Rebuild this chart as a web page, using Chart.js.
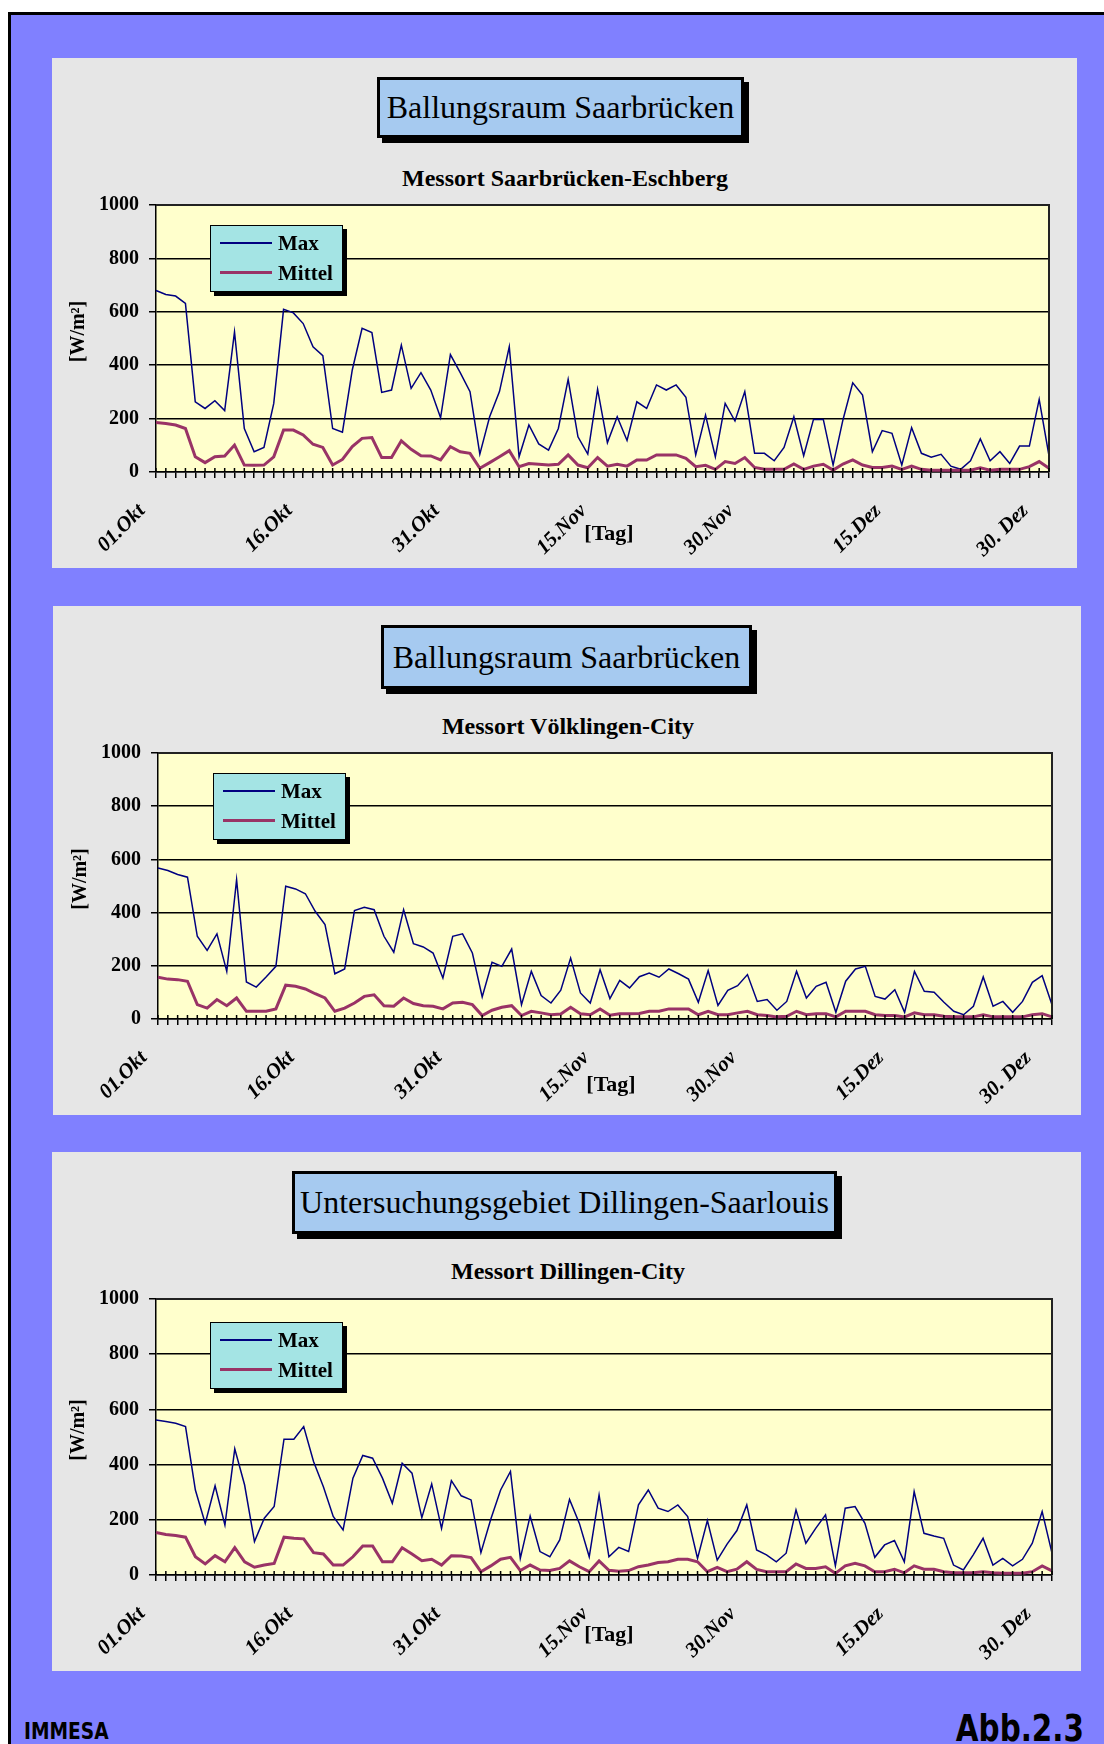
<!DOCTYPE html>
<html>
<head>
<meta charset="utf-8">
<script src="https://cdn.jsdelivr.net/npm/chart.js@4.4.1/dist/chart.umd.min.js"></script>
<style>
    body { margin: 0; width: 1104px; height: 1744px; background: #fff; position: relative; overflow: hidden;
           font-family: "Liberation Serif", "Times New Roman", serif; }
    #frame { position: absolute; left: 8px; top: 12px; right: 0; bottom: 0; background: #8080FF;
             border-left: 3px solid #000; border-top: 3px solid #000; }
    .panel { position: absolute; background: #E6E6E6; }
    .titlebox { position: absolute; background: #A6CAF0; border: 3px solid #000; box-shadow: 5px 5px 0 #000;
                box-sizing: border-box; font-size: 32px; display: flex; align-items: center;
                justify-content: center; white-space: nowrap; z-index: 2; }
    .sub { position: absolute; font-weight: bold; font-size: 24px; transform: translate(-50%, -50%);
           white-space: nowrap; z-index: 2; }
    canvas { position: absolute; z-index: 1; }
    .legend { position: absolute; width: 133px; height: 67px; box-sizing: border-box; background: #A4E4E4;
              border: 1.5px solid #000; box-shadow: 4px 4px 0 #000; z-index: 3; }
    .legend .ln { position: absolute; left: 9px; width: 52px; }
    .legend .tx { position: absolute; left: 67px; font-weight: bold; font-size: 21px; transform: translateY(-50%); }
    .foot { position: absolute; font-family: "Liberation Sans Narrow", "DejaVu Sans Condensed", "Liberation Sans", sans-serif;
            font-weight: bold; z-index: 2; white-space: nowrap; }
</style>
</head>
<body>
<div id="frame"></div>

<div id="p1"></div>
<div id="p2"></div>
<div id="p3"></div>

<div class="foot" style="left:24px; top:1718px; font-size:23px; transform:scaleX(0.9); transform-origin:left top;">IMMESA</div>
<div class="foot" style="right:20px; top:1706px; font-size:38px; transform:scaleX(0.86); transform-origin:right top;">Abb.2.3</div>

<script>
// categories: one per day, 01.Okt .. 31.Dez
var months = [['Okt', 31], ['Nov', 30], ['Dez', 31]];
var days = [];
months.forEach(function (m) {
    for (var d = 1; d <= m[1]; d++) {
        days.push((d < 10 ? '0' : '') + d + '.' + m[0]);
    }
});
var tickLabels = ['01.Okt', '16.Okt', '31.Okt', '15.Nov', '30.Nov', '15.Dez', '30. Dez'];
var tickEvery = 15;

var maxEschberg = [680, 665, 659, 631, 263, 238, 267, 230, 525, 163,
    76, 92, 257, 609, 596, 556, 469, 436, 163, 149,
    382, 538, 522, 298, 307, 475, 313, 372, 307, 203,
    440, 372, 301, 67, 207, 301, 469, 57, 176, 105,
    82, 163, 347, 132, 67, 310, 110, 207, 118, 263,
    238, 326, 307, 326, 280, 64, 213, 57, 257, 191,
    301, 70, 70, 42, 92, 207, 61, 197, 197, 26,
    195, 334, 288, 76, 155, 145, 26, 166, 70, 55,
    66, 22, 10, 42, 124, 42, 76, 32, 97, 97,
    272, 60];
var mittelEschberg = [185, 182, 176, 163, 57, 35, 57, 60, 101, 26,
    25, 26, 57, 157, 157, 139, 104, 92, 26, 47,
    95, 126, 129, 54, 54, 117, 85, 61, 60, 45,
    95, 76, 70, 14, 35, 57, 80, 20, 32, 29,
    26, 29, 64, 26, 16, 54, 22, 29, 22, 45,
    45, 64, 64, 64, 51, 20, 25, 10, 39, 32,
    54, 17, 10, 10, 10, 30, 10, 22, 29, 7,
    30, 45, 26, 17, 17, 22, 10, 22, 10, 7,
    7, 7, 7, 7, 16, 7, 10, 10, 10, 20,
    39, 14];

var maxVoelklingen = [568, 558, 543, 533, 311, 258, 320, 179, 524, 139,
    120, 158, 198, 499, 489, 471, 405, 355, 170, 188,
    408, 420, 411, 311, 251, 411, 283, 271, 248, 154,
    311, 320, 248, 83, 213, 198, 263, 54, 179, 88,
    60, 108, 229, 98, 60, 185, 77, 145, 117, 159,
    173, 157, 188, 170, 150, 63, 182, 51, 108, 125,
    167, 66, 73, 33, 66, 179, 79, 123, 138, 25,
    142, 188, 198, 85, 75, 110, 25, 179, 104, 101,
    63, 29, 16, 48, 158, 48, 66, 25, 66, 138,
    163, 54];
var mittelVoelklingen = [157, 150, 148, 142, 54, 41, 73, 50, 79, 29,
    29, 29, 38, 127, 123, 113, 95, 79, 29, 41,
    60, 85, 91, 50, 48, 79, 58, 50, 48, 38,
    60, 63, 54, 13, 33, 44, 50, 13, 29, 23,
    16, 19, 44, 20, 16, 38, 14, 20, 20, 21,
    29, 29, 38, 38, 38, 16, 29, 16, 16, 23,
    29, 16, 13, 8, 10, 29, 16, 20, 20, 8,
    29, 29, 29, 16, 13, 13, 8, 23, 16, 16,
    10, 8, 8, 8, 16, 8, 8, 8, 8, 16,
    20, 8];

var maxDillingen = [562, 556, 550, 538, 308, 187, 323, 181, 457, 326,
    121, 206, 248, 492, 492, 538, 411, 320, 212, 163,
    351, 433, 423, 351, 260, 405, 369, 208, 330, 169,
    342, 287, 272, 81, 202, 308, 375, 60, 214, 85,
    66, 127, 274, 187, 66, 290, 66, 100, 85, 254,
    308, 242, 230, 254, 212, 60, 197, 54, 112, 161,
    254, 91, 73, 48, 79, 236, 115, 169, 218, 33,
    242, 248, 187, 64, 109, 125, 48, 302, 151, 141,
    133, 36, 18, 73, 133, 36, 60, 33, 57, 115,
    230, 79];
var mittelDillingen = [154, 147, 143, 137, 66, 40, 70, 48, 99, 48,
    28, 36, 42, 137, 133, 131, 81, 76, 36, 36,
    66, 105, 105, 48, 48, 99, 76, 52, 57, 36,
    70, 69, 63, 12, 33, 57, 64, 16, 36, 18,
    16, 24, 51, 30, 12, 51, 17, 14, 16, 30,
    36, 45, 48, 57, 57, 48, 12, 28, 12, 21,
    48, 20, 12, 12, 12, 40, 24, 24, 30, 6,
    33, 42, 33, 12, 12, 21, 8, 33, 21, 21,
    12, 8, 8, 8, 12, 8, 6, 6, 6, 12,
    33, 15];

var serif = '"Liberation Serif", "Times New Roman", serif';

// yellow plot area, top/right frame, ticks crossing the axis, axis titles
var plotFrame = {
    id: 'plotFrame',
    beforeDraw: function (chart) {
        var a = chart.chartArea, ctx = chart.ctx;
        ctx.save();
        ctx.fillStyle = '#FFFFCC';
        ctx.fillRect(a.left, a.top, a.right - a.left, a.bottom - a.top);
        ctx.restore();
    },
    afterDraw: function (chart) {
        var a = chart.chartArea, ctx = chart.ctx, x = chart.scales.x;
        var opts = chart.options.plugins.plotFrame;
        ctx.save();
        ctx.strokeStyle = '#222';
        ctx.lineWidth = 2;
        ctx.beginPath();
        ctx.moveTo(a.left, a.top);
        ctx.lineTo(a.right, a.top);
        ctx.lineTo(a.right, a.bottom);
        ctx.stroke();

        ctx.strokeStyle = '#000';
        ctx.lineWidth = 1.5;
        ctx.beginPath();
        for (var i = 0; i < days.length; i++) {
            var px = x.getPixelForValue(i);
            ctx.moveTo(px, a.bottom - 4);
            ctx.lineTo(px, a.bottom);
        }
        ctx.stroke();

        ctx.fillStyle = '#000';
        ctx.textAlign = 'center';
        ctx.textBaseline = 'middle';
        ctx.font = 'bold 22px ' + serif;
        ctx.fillText('[Tag]', a.left + 453, a.bottom + opts.tagDy);

        ctx.translate(a.left - 77, (a.top + a.bottom) / 2 - 7);
        ctx.rotate(-Math.PI / 2);
        ctx.font = 'bold 20px ' + serif;
        ctx.fillText('[W/m\u00B2]', 0, 0);
        ctx.restore();
    }
};

var layouts = [
    { panel: { l: 52, t: 58, r: 1077, b: 568 }, plot: { l: 156, t: 205, r: 1049, b: 472 },
      title: { l: 377, t: 77, w: 367, h: 61 }, subX: 565, subY: 178, legend: { l: 210, t: 225 }, tagDy: 62 },
    { panel: { l: 53, t: 606, r: 1081, b: 1115 }, plot: { l: 158, t: 753, r: 1052, b: 1019 },
      title: { l: 381, t: 625, w: 371, h: 64 }, subX: 568, subY: 726, legend: { l: 213, t: 773 }, tagDy: 66 },
    { panel: { l: 52, t: 1152, r: 1081, b: 1671 }, plot: { l: 156, t: 1299, r: 1052, b: 1575 },
      title: { l: 292, t: 1171, w: 545, h: 63 }, subX: 568, subY: 1271, legend: { l: 210, t: 1322 }, tagDy: 60 }
];

function buildPanel(holderId, box, titleText, subText, maxValues, mittelValues) {
    var holder = document.getElementById(holderId);
    var html = '';
    html += '<div class="panel" style="left:' + box.panel.l + 'px;top:' + box.panel.t + 'px;width:' +
        (box.panel.r - box.panel.l) + 'px;height:' + (box.panel.b - box.panel.t) + 'px;"></div>';
    html += '<div class="titlebox" style="left:' + box.title.l + 'px;top:' + box.title.t + 'px;width:' +
        box.title.w + 'px;height:' + box.title.h + 'px;">' + titleText + '</div>';
    html += '<div class="sub" style="left:' + box.subX + 'px;top:' + box.subY + 'px;">' + subText + '</div>';
    html += '<canvas></canvas>';
    html += '<div class="legend" style="left:' + box.legend.l + 'px;top:' + box.legend.t + 'px;">' +
        '<div class="ln" style="top:16px;height:1.5px;background:#000080;"></div>' +
        '<div class="tx" style="top:17px;">Max</div>' +
        '<div class="ln" style="top:45px;height:3px;background:#993366;"></div>' +
        '<div class="tx" style="top:47px;">Mittel</div></div>';
    holder.innerHTML = html;

    var canvas = holder.querySelector('canvas');
    var top = box.plot.t - 10;
    canvas.width = box.panel.r - box.panel.l;
    canvas.height = box.panel.b - top;
    canvas.style.left = box.panel.l + 'px';
    canvas.style.top = top + 'px';

    new Chart(canvas, {
        type: 'line',
        data: {
            labels: days,
            datasets: [{
                label: 'Max',
                data: maxValues,
                borderColor: '#000080',
                borderWidth: 1.5,
                pointRadius: 0,
                tension: 0,
                order: 1
            }, {
                label: 'Mittel',
                data: mittelValues,
                borderColor: '#993366',
                borderWidth: 3,
                pointRadius: 0,
                tension: 0,
                order: 0
            }]
        },
        options: {
            responsive: false,
            animation: false,
            layout: { padding: { top: 10, right: box.panel.r - box.plot.r, left: 0, bottom: 0 } },
            plugins: {
                legend: { display: false },
                tooltip: { enabled: false },
                plotFrame: { tagDy: box.tagDy }
            },
            scales: {
                x: {
                    ticks: {
                        autoSkip: false,
                        minRotation: 45,
                        maxRotation: 45,
                        padding: 21,
                        labelOffset: -14,
                        color: '#000',
                        font: { family: serif, size: 21, weight: 'bold', style: 'italic' },
                        callback: function (value, index) {
                            return index % tickEvery === 0 ? tickLabels[index / tickEvery] : '';
                        }
                    },
                    grid: { drawOnChartArea: false, color: '#000', lineWidth: 1.5, tickLength: 6 },
                    border: { color: '#000', width: 1.5 },
                    afterFit: function (s) {
                        s.height = box.panel.b - box.plot.b;
                        s.paddingLeft = 0;
                        s.paddingRight = 0;
                    }
                },
                y: {
                    min: 0,
                    max: 1000,
                    ticks: {
                        stepSize: 200,
                        padding: 10,
                        color: '#000',
                        font: { family: serif, size: 20, weight: 'bold' },
                        callback: function (value) {
                            return String(value);
                        }
                    },
                    grid: { color: '#000', lineWidth: 1.5, tickLength: 7 },
                    border: { color: '#000', width: 1.5 },
                    afterFit: function (s) {
                        s.width = box.plot.l - box.panel.l;
                        s.paddingTop = 0;
                        s.paddingBottom = 0;
                    }
                }
            }
        },
        plugins: [plotFrame]
    });
}

buildPanel('p1', layouts[0], 'Ballungsraum Saarbrücken', 'Messort Saarbrücken-Eschberg', maxEschberg, mittelEschberg);
buildPanel('p2', layouts[1], 'Ballungsraum Saarbrücken', 'Messort Völklingen-City', maxVoelklingen, mittelVoelklingen);
buildPanel('p3', layouts[2], 'Untersuchungsgebiet Dillingen-Saarlouis', 'Messort Dillingen-City', maxDillingen, mittelDillingen);
</script>
</body>
</html>
